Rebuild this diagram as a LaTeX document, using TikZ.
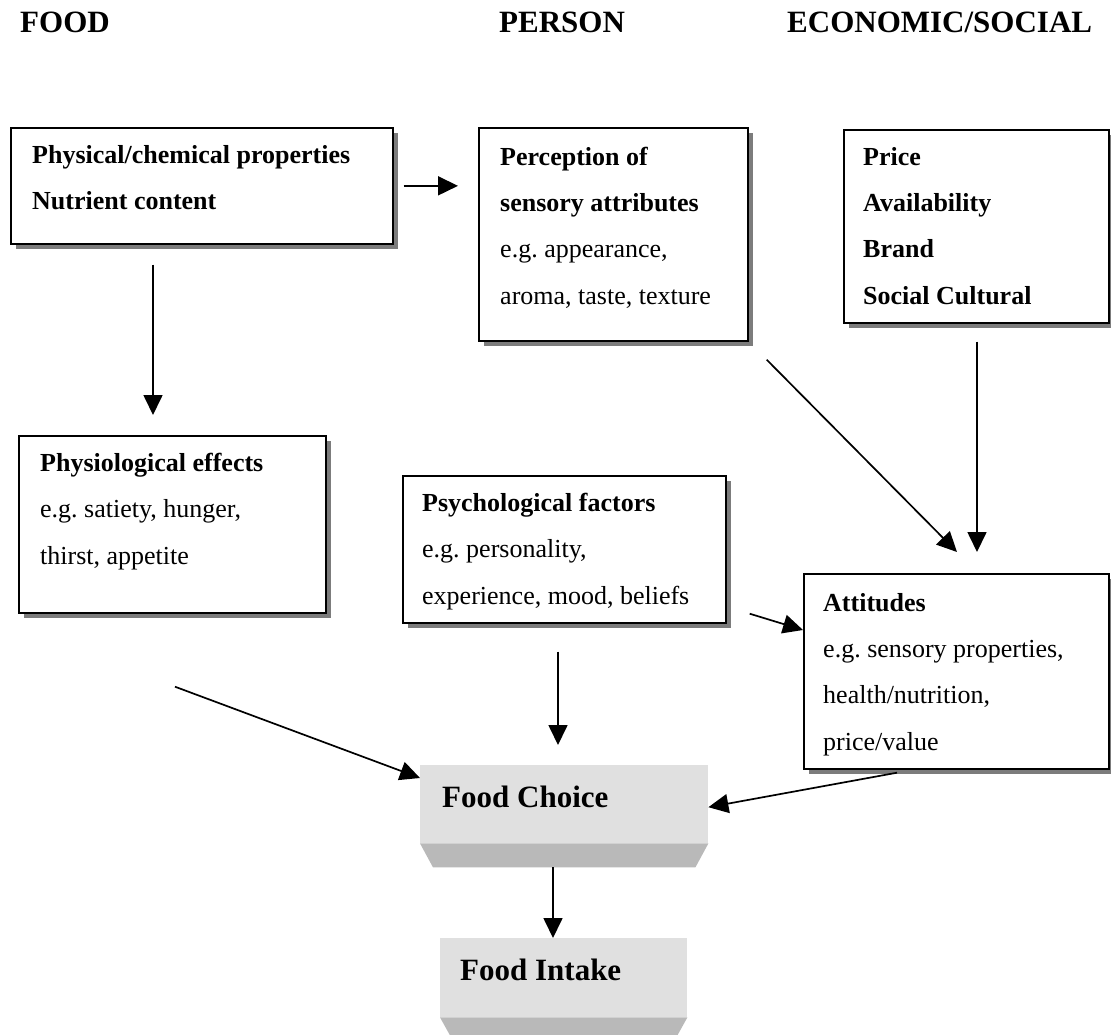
\documentclass[tikz,border=0pt]{standalone}
\usepackage{fontspec}
\setmainfont{Liberation Serif}
\usetikzlibrary{arrows.meta,shadows}
\frenchspacing

\definecolor{shadowgray}{HTML}{7C7C7C}
\definecolor{facegray}{HTML}{E0E0E0}
\definecolor{bevelgray}{HTML}{B9B9B9}

\tikzset{
  factorbox/.style={draw=black, line width=1.7pt, fill=white, inner sep=0pt,
    anchor=north west,
    drop shadow={opacity=1, fill=shadowgray, shadow xshift=5pt, shadow yshift=-5pt}},
  facebox/.style={fill=facegray, inner sep=0pt, anchor=north west},
  bevel/.style={fill=bevelgray},
  % multi-line labels are placed by the baseline of their last line
  boxtext/.style={inner sep=0pt, anchor=base west, align=left,
    font=\fontsize{26}{46.3}\selectfont},
  heading/.style={inner sep=0pt, anchor=base west,
    font=\fontsize{31}{36}\selectfont\bfseries},
  outcome/.style={inner sep=0pt, anchor=base west,
    font=\fontsize{31}{36}\selectfont\bfseries},
  arr/.style={line width=1.7pt, -{Triangle[length=20pt,width=19pt]}},
}

\begin{document}
\begin{tikzpicture}[x=1pt,y=-1pt]
\useasboundingbox (0,0) rectangle (1111,1035);

% column headings
\node[heading] (hfood) at (20,33) {FOOD};
\node[heading] (hperson) at (499,33) {PERSON};
\node[heading] (hecon) at (787,33) {ECONOMIC/SOCIAL};

% factor boxes
\node[factorbox, minimum width=382pt, minimum height=116pt] (phys) at (10,127) {};
\node[factorbox, minimum width=269pt, minimum height=213pt] (perc) at (478,127) {};
\node[factorbox, minimum width=265pt, minimum height=193pt] (price) at (843,129) {};
\node[factorbox, minimum width=307pt, minimum height=177pt] (physio) at (18,435) {};
\node[factorbox, minimum width=323pt, minimum height=147pt] (psych) at (402,475) {};
\node[factorbox, minimum width=305pt, minimum height=195pt] (att) at (803,573) {};

\node[boxtext] (physT) at (32,210) {\textbf{Physical/chemical properties}\\\textbf{Nutrient content}};
\node[boxtext] (percT) at (500,304) {\textbf{Perception of}\\\textbf{sensory attributes}\\e.g. appearance,\\aroma, taste, texture};
\node[boxtext] (priceT) at (863,304) {\textbf{Price}\\\textbf{Availability}\\\textbf{Brand}\\\textbf{Social Cultural}};
\node[boxtext] (physioT) at (40,564) {\textbf{Physiological effects}\\e.g. satiety, hunger,\\thirst, appetite};
\node[boxtext] (psychT) at (422,604) {\textbf{Psychological factors}\\e.g. personality,\\experience, mood, beliefs};
\node[boxtext] (attT) at (823,750) {\textbf{Attitudes}\\e.g. sensory properties,\\health/nutrition,\\price/value};

% raised outcome blocks
\node[facebox, minimum width=288pt, minimum height=78pt] (choice) at (420,765) {};
\fill[bevel] (choice.south west) -- (choice.south east)
  -- ([xshift=-13pt,yshift=-24pt]choice.south east)
  -- ([xshift=13pt,yshift=-24pt]choice.south west) -- cycle;
\node[outcome] (choiceT) at (442,807) {Food Choice};

\node[facebox, minimum width=247pt, minimum height=79pt] (intake) at (440,938) {};
\fill[bevel] (intake.south west) -- (intake.south east)
  -- ([xshift=-10pt,yshift=-18pt]intake.south east)
  -- ([xshift=10pt,yshift=-18pt]intake.south west) -- cycle;
\node[outcome] (intakeT) at (460,980) {Food Intake};

% connectors
\draw[arr, shorten <=10pt, shorten >=20pt] (phys.east) -- (phys.east -| perc.west);
\draw[arr, shorten <=20pt, shorten >=20pt]
  ([xshift=143pt]phys.south west) -- ([xshift=143pt]phys.south west |- physio.north);
\draw[arr] ([xshift=18pt,yshift=-18pt]perc.south east) -- ([xshift=154pt,yshift=21pt]att.north west);
\draw[arr, shorten <=18pt, shorten >=21pt]
  ([xshift=134pt]price.south west) -- ([xshift=134pt]price.south west |- att.north);
\draw[arr] ([xshift=23pt,yshift=10pt]psych.south east) -- ([yshift=-57pt]att.north west);
\draw[arr, shorten <=28pt, shorten >=20pt]
  ([xshift=156pt]psych.south west) -- ([xshift=156pt]psych.south west |- choice.north);
\draw[arr] ([xshift=157pt,yshift=-73pt]physio.south west) -- ([yshift=-13pt]choice.north west);
\draw[arr] ([xshift=94pt,yshift=-3pt]att.south west) -- ([yshift=-3pt]choice.east);
\draw[arr, shorten <=24pt]
  ([xshift=133pt]choice.south west) -- ([xshift=133pt]choice.south west |- intake.north);
\end{tikzpicture}
\end{document}
